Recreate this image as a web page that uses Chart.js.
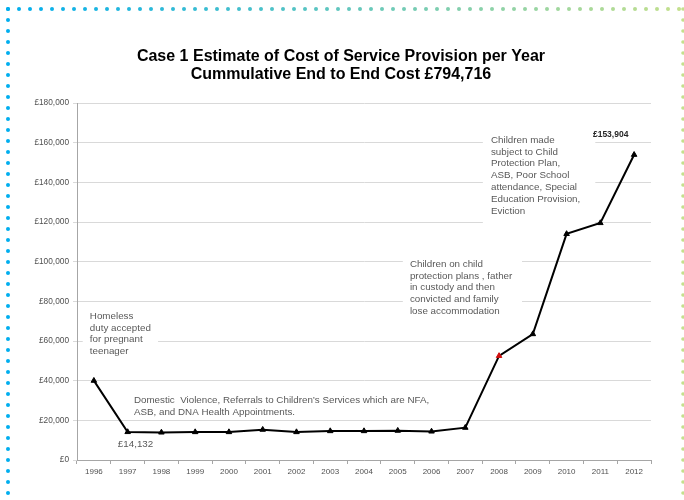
<!DOCTYPE html>
<html><head><meta charset="utf-8">
<script src="https://cdn.jsdelivr.net/npm/chart.js@4/dist/chart.umd.min.js"></script>
<style>html,body{margin:0;padding:0;background:#fff}#wrap{width:684px;height:500px;position:relative}</style>
</head><body><div id="wrap"><canvas id="c" width="684" height="500"></canvas></div>
<script>
// ---- data ----
const years = ['1996','1997','1998','1999','2000','2001','2002','2003','2004','2005','2006','2007','2008','2009','2010','2011','2012'];
const costs = [40000, 14132, 13900, 14100, 14100, 15300, 14100, 14600, 14600, 14800, 14400, 16300, 52500, 63500, 114000, 119500, 153904];
const yTickValues = [0, 20000, 40000, 60000, 80000, 100000, 120000, 140000, 160000, 180000];
const highlightYear = '2008';
const titleLines = ['Case 1 Estimate of Cost of Service Provision per Year', 'Cummulative End to End Cost £794,716'];
const noteHomeless = ['Homeless', 'duty accepted', 'for pregnant', 'teenager'];
const noteDomestic = ['Domestic  Violence, Referrals to Children\u2019s Services which are NFA,', 'ASB, and DNA Health Appointments.'];
const noteCustody = ['Children on child', 'protection plans , father', 'in custody and then', 'convicted and family', 'lose accommodation'];
const noteCPP = ['Children made', 'subject to Child', 'Protection Plan,', 'ASB, Poor School', 'attendance, Special', 'Education Provision,', 'Eviction'];
const labelFirst = ['£14,132'];
const labelLast = ['£153,904'];

// ---- layout of annotations (in axis units: category index, value) ----
const FONT = '"Liberation Sans", Arial, sans-serif';
const notes = [
  {lines: noteHomeless, i: -0.12, v: 72600, box: [-0.33, 77600, 1.9, 49400]},
  {lines: noteDomestic, i: 1.185, v: 30250},
  {lines: labelFirst, i: 0.71, v: 8000},
  {lines: noteCustody, i: 9.36, v: 98800, box: [9.15, 104000, 12.68, 69600]},
  {lines: noteCPP, i: 11.76, v: 161300, box: [11.52, 167000, 14.85, 118000]},
  {lines: labelLast, i: 14.78, v: 163800, bold: true}
];

const borderPlugin = {
  id: 'dotBorder',
  beforeDraw(chart) {
    const ctx = chart.ctx;
    ctx.save();
    ctx.fillStyle = '#fff';
    ctx.fillRect(0, 0, chart.width, chart.height);
    const c0 = [0, 174, 239], c1 = [196, 224, 140];
    const mix = t => 'rgb(' + c0.map((a, k) => Math.round(a + (c1[k] - a) * t)).join(',') + ')';
    const x0 = 8, x1 = 683, y0 = 9, step = 11;
    for (let x = x0; x <= x1 - 4; x += step) {
      ctx.fillStyle = mix((x - x0) / (x1 - x0));
      ctx.beginPath(); ctx.arc(x, y0, 2, 0, Math.PI * 2); ctx.fill();
    }
    for (let y = y0; y <= chart.height; y += step) {
      ctx.fillStyle = mix(0);
      ctx.beginPath(); ctx.arc(x0, y, 2, 0, Math.PI * 2); ctx.fill();
      ctx.fillStyle = mix(1);
      ctx.beginPath(); ctx.arc(x1, y, 1.8, 0, Math.PI * 2); ctx.fill();
    }
    // title
    ctx.fillStyle = '#000';
    ctx.font = 'bold 16px ' + FONT;
    ctx.textAlign = 'center';
    ctx.textBaseline = 'middle';
    titleLines.forEach((t, k) => ctx.fillText(t, 341, 57 + k * 18));
    ctx.restore();
  }
};

const notePlugin = {
  id: 'notes',
  beforeDatasetsDraw(chart) {
    const ctx = chart.ctx, xs = chart.scales.x, ys = chart.scales.y;
    ctx.save();
    notes.forEach(n => {
      if (n.box) {
        const bx0 = xs.getPixelForValue(n.box[0]), by0 = ys.getPixelForValue(n.box[1]);
        const bx1 = xs.getPixelForValue(n.box[2]), by1 = ys.getPixelForValue(n.box[3]);
        ctx.fillStyle = '#fff';
        ctx.fillRect(bx0, by0, bx1 - bx0, by1 - by0);
      }
    });
    notes.forEach(n => {
      const x = xs.getPixelForValue(n.i), y = ys.getPixelForValue(n.v);
      ctx.fillStyle = n.bold ? '#262626' : '#595959';
      ctx.font = (n.bold ? 'bold 8.5px ' : '9.8px ') + FONT;
      ctx.textAlign = 'left';
      ctx.textBaseline = 'middle';
      n.lines.forEach((t, k) => ctx.fillText(t, x, y + k * 11.8));
    });
    ctx.restore();
  }
};

new Chart(document.getElementById('c'), {
  type: 'line',
  data: {
    labels: years,
    datasets: [{
      data: costs,
      borderColor: '#000',
      borderWidth: 2,
      tension: 0,
      pointStyle: 'triangle',
      pointRadius: 3.2,
      pointBackgroundColor: years.map(y => y === highlightYear ? '#d01010' : '#000'),
      pointBorderColor: years.map(y => y === highlightYear ? '#d01010' : '#000'),
      pointBorderWidth: 1
    }]
  },
  options: {
    responsive: false,
    animation: false,
    devicePixelRatio: 1,
    layout: {padding: {left: 0, right: 33, top: 103, bottom: 0}},
    plugins: {legend: {display: false}, title: {display: false}, tooltip: {enabled: false}},
    scales: {
      x: {
        offset: true,
        grid: {display: true, drawOnChartArea: false, drawTicks: true, tickLength: 4, offset: true, color: '#a6a6a6'},
        border: {color: '#a6a6a6'},
        ticks: {font: {family: FONT, size: 8}, color: '#505050', padding: 3, maxRotation: 0, autoSkip: false},
        afterFit(s) { s.height = 40; }
      },
      y: {
        min: 0, max: 180000,
        afterBuildTicks(s) { s.ticks = yTickValues.map(v => ({value: v})); },
        grid: {color: '#d9d9d9', tickLength: 4, drawTicks: true},
        border: {color: '#a6a6a6'},
        ticks: {font: {family: FONT, size: 8.3}, color: '#505050', padding: 4,
          callback: v => '£' + Number(v).toLocaleString('en-GB')},
        afterFit(s) { s.width = 77; }
      }
    }
  },
  plugins: [borderPlugin, notePlugin]
});
</script></body></html>
